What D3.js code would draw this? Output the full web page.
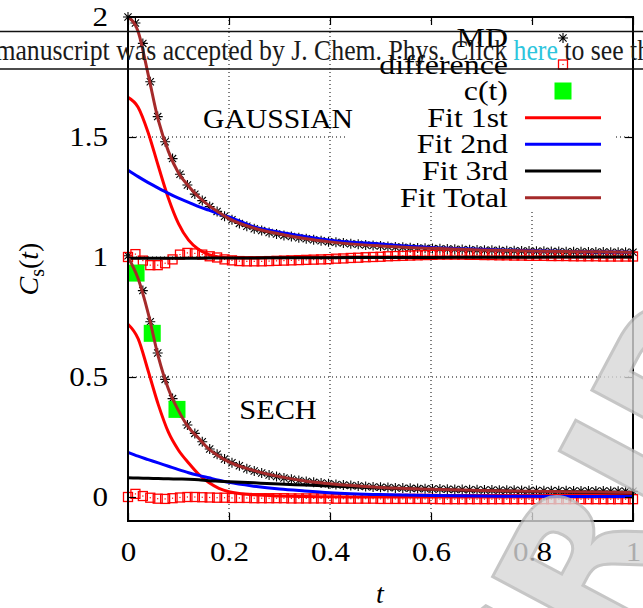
<!DOCTYPE html>
<html>
<head>
<meta charset="utf-8">
<script src="https://cdn.jsdelivr.net/npm/d3@7"></script>
<style>
  body { margin: 0; background: #fff; }
  text { font-family: "Liberation Serif", "Times New Roman", serif; }
</style>
</head>
<body>
<div id="chart"></div>
<script>
// ---- data ----
var mdStep = 1 / 68;

// GAUSSIAN panel (shifted by +1)
var gaussMD = [2.00, 1.975, 1.89, 1.73, 1.585, 1.48, 1.41, 1.345, 1.30, 1.262, 1.235, 1.21, 1.19, 1.17,
  1.155, 1.14, 1.128, 1.118, 1.110, 1.102, 1.096, 1.090, 1.085, 1.080, 1.076, 1.072, 1.068, 1.064,
  1.061, 1.058, 1.055, 1.053, 1.050, 1.048, 1.046, 1.044, 1.042, 1.041, 1.039, 1.038, 1.036, 1.035,
  1.034, 1.033, 1.032, 1.031, 1.030, 1.029, 1.028, 1.028, 1.027, 1.026, 1.026, 1.025, 1.025, 1.024,
  1.024, 1.023, 1.023, 1.022, 1.022, 1.022, 1.021, 1.021, 1.021, 1.020, 1.020, 1.020, 1.020];
var gaussDiff = [1.000, 1.012, 0.985, 0.966, 0.966, 0.974, 0.990, 1.010, 1.017, 1.015, 1.010, 1.003,
  0.998, 0.990, 0.986, 0.983, 0.982, 0.982, 0.982, 0.983, 0.984, 0.985, 0.986, 0.987, 0.988, 0.989,
  0.990, 0.991, 0.993, 0.994, 0.996, 0.997, 0.999, 1.000, 1.001, 1.003, 1.004, 1.005, 1.006, 1.007,
  1.008, 1.009, 1.010, 1.010, 1.010, 1.010, 1.009, 1.009, 1.008, 1.008, 1.007, 1.007, 1.006, 1.006,
  1.005, 1.005, 1.005, 1.004, 1.004, 1.004, 1.003, 1.003, 1.003, 1.003, 1.002, 1.002, 1.002, 1.002, 1.002];

// SECH panel
var sechMD = [1.005, 0.94, 0.86, 0.73, 0.60, 0.49, 0.41, 0.35, 0.30, 0.265, 0.23, 0.20, 0.178, 0.158,
  0.143, 0.130, 0.118, 0.108, 0.100, 0.092, 0.085, 0.079, 0.074, 0.069, 0.065, 0.061, 0.058, 0.055,
  0.052, 0.050, 0.048, 0.046, 0.044, 0.042, 0.041, 0.040, 0.038, 0.037, 0.036, 0.035, 0.034, 0.033,
  0.033, 0.032, 0.031, 0.031, 0.030, 0.030, 0.029, 0.029, 0.028, 0.028, 0.028, 0.027, 0.027, 0.027,
  0.026, 0.026, 0.026, 0.026, 0.025, 0.025, 0.025, 0.025, 0.025, 0.024, 0.024, 0.024, 0.024];
var sechDiff = [0.000, 0.013, 0.004, -0.003, -0.007, -0.008, -0.005, -0.002, 0.000, 0.000, -0.001,
  -0.002, -0.003, -0.003, -0.004, -0.004, -0.004, -0.005, -0.005, -0.005, -0.005, -0.005, -0.006,
  -0.006, -0.006, -0.006, -0.006, -0.006, -0.007, -0.007, -0.007, -0.007, -0.007, -0.007, -0.008,
  -0.008, -0.008, -0.008, -0.008, -0.008, -0.008, -0.008, -0.009, -0.009, -0.009, -0.009, -0.009,
  -0.009, -0.009, -0.009, -0.009, -0.009, -0.009, -0.009, -0.009, -0.009, -0.009, -0.009, -0.009,
  -0.009, -0.009, -0.009, -0.009, -0.009, -0.009, -0.009, -0.009, -0.009, -0.009];

// c(t) points
var ctT = [0.016, 0.048, 0.097];
var ctV = [0.933, 0.682, 0.365];

// fitted curves, sampled at fitT
var fitT = [0, 0.02, 0.04, 0.06, 0.08, 0.1, 0.12, 0.14, 0.16, 0.18, 0.2, 0.25, 0.3, 0.35, 0.4, 0.5, 0.6, 0.7, 0.8, 0.9, 1.0];
var gaussFit1 = [1.665, 1.624, 1.518, 1.379, 1.245, 1.139, 1.07, 1.031, 1.01, 1.0, 0.997, 0.996, 0.997, 0.998, 0.999, 1.0, 1.0, 1.0, 1.0, 1.0, 1.0];
var gaussFit2 = [1.362, 1.335, 1.31, 1.287, 1.265, 1.245, 1.228, 1.21, 1.195, 1.18, 1.167, 1.125, 1.103, 1.086, 1.07, 1.054, 1.04, 1.032, 1.026, 1.022, 1.02];
var gaussFit3 = [0.995, 0.995, 0.995, 0.995, 0.995, 0.995, 0.995, 0.995, 0.996, 0.996, 0.996, 0.996, 0.997, 0.997, 0.997, 0.998, 0.998, 0.999, 0.999, 1.0, 1.0];
var gaussFitTot = [2.0, 1.94, 1.76, 1.57, 1.44, 1.35, 1.295, 1.25, 1.215, 1.185, 1.16, 1.12, 1.096, 1.077, 1.063, 1.046, 1.036, 1.029, 1.025, 1.022, 1.02];
var sechFit1 = [0.72, 0.66, 0.525, 0.385, 0.27, 0.195, 0.142, 0.095, 0.06, 0.036, 0.022, 0.009, 0.004, 0.002, 0.001, 0.0, 0.0, 0.0, 0.0, 0.0, 0.0];
var sechFit2 = [0.186, 0.17, 0.156, 0.142, 0.128, 0.114, 0.101, 0.09, 0.08, 0.07, 0.061, 0.045, 0.033, 0.025, 0.018, 0.01, 0.006, 0.004, 0.003, 0.002, 0.002];
var sechFit3 = [0.08, 0.079, 0.078, 0.077, 0.076, 0.075, 0.074, 0.072, 0.068, 0.066, 0.064, 0.059, 0.054, 0.05, 0.046, 0.038, 0.031, 0.026, 0.022, 0.019, 0.017];
var sechFitTot = [1.0, 0.91, 0.765, 0.585, 0.45, 0.36, 0.29, 0.245, 0.20, 0.17, 0.146, 0.11, 0.085, 0.067, 0.055, 0.04, 0.032, 0.027, 0.024, 0.021, 0.019];

var xTicks = [0, 0.2, 0.4, 0.6, 0.8, 1];
var yTicks = [0, 0.5, 1, 1.5, 2];
var legendLabels = ["MD", "difference", "c(t)", "Fit 1st", "Fit 2nd", "Fit 3rd", "Fit Total"];
var fitColors = ["#ff0000", "#0000ff", "#000000", "#a52a2a"];

// ---- canvas ----
var W = 643, H = 608;
var svg = d3.select("#chart").append("svg")
  .attr("width", W)
  .attr("height", H);

var x = d3.scaleLinear().domain([0, 1]).range([128, 633]);
var y = d3.scaleLinear().domain([-0.1, 2]).range([521, 17]);

// widen Times glyphs a bit so they take the room of Computer Modern
function widen(sel, f) {
  sel.each(function() {
    var len = this.getComputedTextLength();
    d3.select(this).attr("textLength", len * f).attr("lengthAdjust", "spacingAndGlyphs");
  });
}

// Grid lines (dotted)
var grid = svg.append("g");
[0.2, 0.4, 0.6, 0.8].forEach(function(v) {
  grid.append("line")
    .attr("x1", x(v)).attr("x2", x(v))
    .attr("y1", y(-0.1)).attr("y2", y(2))
    .attr("stroke", "#000").attr("stroke-width", 1).attr("stroke-dasharray", "1,3");
});
[0.5, 1, 1.5].forEach(function(v) {
  grid.append("line")
    .attr("x1", x(0)).attr("x2", x(1))
    .attr("y1", y(v)).attr("y2", y(v))
    .attr("stroke", "#000").attr("stroke-width", 1).attr("stroke-dasharray", "1,3");
});

// ---- data layers ----
var plot = svg.append("g");

function drawStars(vals) {
  plot.append("g").selectAll("path")
    .data(vals)
    .enter().append("path")
    .attr("transform", function(d, i) { return "translate(" + x(i * mdStep) + "," + y(d) + ")"; })
    .attr("d", "M-5,0H5M0,-5V5M-3.6,-3.6L3.6,3.6M-3.6,3.6L3.6,-3.6")
    .attr("stroke", "#000")
    .attr("stroke-width", 1.1)
    .attr("fill", "none");
}

function drawSquares(vals) {
  var g = plot.append("g").selectAll("g")
    .data(vals)
    .enter().append("g")
    .attr("transform", function(d, i) { return "translate(" + x(i * mdStep) + "," + y(d) + ")"; });
  g.append("rect")
    .attr("x", -4.5).attr("y", -4.5).attr("width", 9).attr("height", 9)
    .attr("fill", "none").attr("stroke", "#ff0000").attr("stroke-width", 1.3);
  g.append("rect")
    .attr("x", -0.6).attr("y", -0.6).attr("width", 1.2).attr("height", 1.2)
    .attr("fill", "#ff0000");
}

var line = d3.line()
  .x(function(d, i) { return x(fitT[i]); })
  .y(function(d) { return y(d); })
  .curve(d3.curveMonotoneX);

function drawFit(vals, color) {
  plot.append("path")
    .attr("d", line(vals))
    .attr("fill", "none")
    .attr("stroke", color)
    .attr("stroke-width", 3);
}

drawStars(gaussMD);
drawStars(sechMD);
drawSquares(gaussDiff);
drawSquares(sechDiff);

plot.append("g").selectAll("rect")
  .data(ctV)
  .enter().append("rect")
  .attr("x", function(d, i) { return x(ctT[i]) - 8.5; })
  .attr("y", function(d) { return y(d) - 8.5; })
  .attr("width", 17).attr("height", 17)
  .attr("fill", "#00ff00");

drawFit(gaussFit1, fitColors[0]);
drawFit(sechFit1, fitColors[0]);
drawFit(gaussFit2, fitColors[1]);
drawFit(sechFit2, fitColors[1]);
drawFit(gaussFit3, fitColors[2]);
drawFit(sechFit3, fitColors[2]);
drawFit(gaussFitTot, fitColors[3]);
drawFit(sechFitTot, fitColors[3]);

// ---- legend (opaque key) ----
var key = svg.append("g");
key.append("rect")
  .attr("x", 348).attr("y", 24).attr("width", 266).attr("height", 188)
  .attr("fill", "#fff");
var rowY = [38, 64.5, 91, 117.7, 144.3, 171, 197.7];
legendLabels.forEach(function(lab, i) {
  key.append("text")
    .attr("x", 508).attr("y", rowY[i] + 9)
    .attr("text-anchor", "end")
    .style("font-size", "27.5px")
    .text(lab)
    .call(widen, 1.16);
});
key.append("path")
  .attr("transform", "translate(563," + rowY[0] + ")")
  .attr("d", "M-5,0H5M0,-5V5M-3.6,-3.6L3.6,3.6M-3.6,3.6L3.6,-3.6")
  .attr("stroke", "#000").attr("stroke-width", 1.1);
key.append("rect")
  .attr("x", 558.5).attr("y", rowY[1] - 4.5).attr("width", 9).attr("height", 9)
  .attr("fill", "none").attr("stroke", "#ff0000").attr("stroke-width", 1.3);
key.append("rect")
  .attr("x", 562.4).attr("y", rowY[1] - 0.6).attr("width", 1.2).attr("height", 1.2)
  .attr("fill", "#ff0000");
key.append("rect")
  .attr("x", 554.5).attr("y", rowY[2] - 8.5).attr("width", 17).attr("height", 17)
  .attr("fill", "#00ff00");
fitColors.forEach(function(c, i) {
  key.append("line")
    .attr("x1", 525).attr("x2", 601)
    .attr("y1", rowY[3 + i]).attr("y2", rowY[3 + i])
    .attr("stroke", c).attr("stroke-width", 3);
});

// Panel labels
svg.append("text").attr("x", 278).attr("y", 128).attr("text-anchor", "middle")
  .style("font-size", "28px").text("GAUSSIAN").call(widen, 1.06);
svg.append("text").attr("x", 278).attr("y", 419).attr("text-anchor", "middle")
  .style("font-size", "28px").text("SECH").call(widen, 1.08);

// ---- axes (ticks pointing inwards) ----
var fmt = function(d) { return String(d); };
svg.append("g").attr("transform", "translate(" + x(0) + ",0)")
  .call(d3.axisLeft(y).tickValues(yTicks).tickSize(-8).tickPadding(20).tickFormat(fmt));
svg.append("g").attr("transform", "translate(0," + y(-0.1) + ")")
  .call(d3.axisBottom(x).tickValues(xTicks).tickSize(-8).tickPadding(21).tickFormat(fmt));
svg.append("g").attr("transform", "translate(" + x(1) + ",0)")
  .call(d3.axisRight(y).tickValues(yTicks).tickSize(-8).tickFormat(""));
svg.append("g").attr("transform", "translate(0," + y(2) + ")")
  .call(d3.axisTop(x).tickValues(xTicks).tickSize(-8).tickFormat(""));
svg.selectAll(".domain").remove();
svg.selectAll(".tick line").attr("stroke", "#000").attr("stroke-width", 1.2);
svg.selectAll(".tick text")
  .style("font-family", "'Liberation Serif', serif")
  .style("font-size", "27px")
  .attr("fill", "#000")
  .call(widen, 1.15);

// frame
svg.append("rect")
  .attr("x", x(0)).attr("y", y(2))
  .attr("width", x(1) - x(0)).attr("height", y(-0.1) - y(2))
  .attr("fill", "none").attr("stroke", "#000").attr("stroke-width", 2);

// axis titles
svg.append("text").attr("x", 380).attr("y", 603)
  .attr("text-anchor", "middle")
  .style("font-size", "28px").style("font-style", "italic").text("t");
var yl = svg.append("text")
  .attr("transform", "translate(38,269) rotate(-90)")
  .attr("text-anchor", "middle")
  .style("font-size", "28px");
yl.append("tspan").style("font-style", "italic").text("C");
yl.append("tspan").attr("dy", 6).style("font-size", "20px").text("s");
yl.append("tspan").attr("dy", -6).text("(");
yl.append("tspan").style("font-style", "italic").text("t");
yl.append("tspan").text(")");

// ---- banner across the top ----
var bannerPre = "This ";
var bannerMid = "manuscript was accepted by J. Chem. Phys. Click ";
var bfs = 29.5;
var probe = svg.append("text").style("font-size", bfs + "px").text(bannerMid);
var sx = 512 / probe.node().getComputedTextLength();
probe.text(bannerPre);
var preLen = probe.node().getComputedTextLength();
probe.remove();

[31.5, 69].forEach(function(v) {
  svg.append("line").attr("x1", 0).attr("x2", W).attr("y1", v).attr("y2", v)
    .attr("stroke", "#111").attr("stroke-width", 1.5);
});
var banner = svg.append("text")
  .attr("transform", "translate(" + (-11 - preLen * sx) + ",60) scale(" + sx + ",1)")
  .style("font-size", bfs + "px")
  .attr("fill", "#1a1a1a");
banner.append("tspan").text(bannerPre + bannerMid);
banner.append("tspan").attr("fill", "#2ec5dd").text("here");
banner.append("tspan").text(" to see the version of record.");

// ---- watermark, bottom right ----
svg.append("text")
  .attr("transform", "translate(540,775) rotate(-62)")
  .style("font-family", "'DejaVu Sans', sans-serif")
  .style("font-weight", "bold")
  .style("font-size", "185px")
  .attr("fill", "#d8d8d8")
  .attr("stroke", "#b8b8b8")
  .attr("stroke-width", 3)
  .attr("opacity", 0.8)
  .text("CRIPT");
</script>
</body>
</html>
